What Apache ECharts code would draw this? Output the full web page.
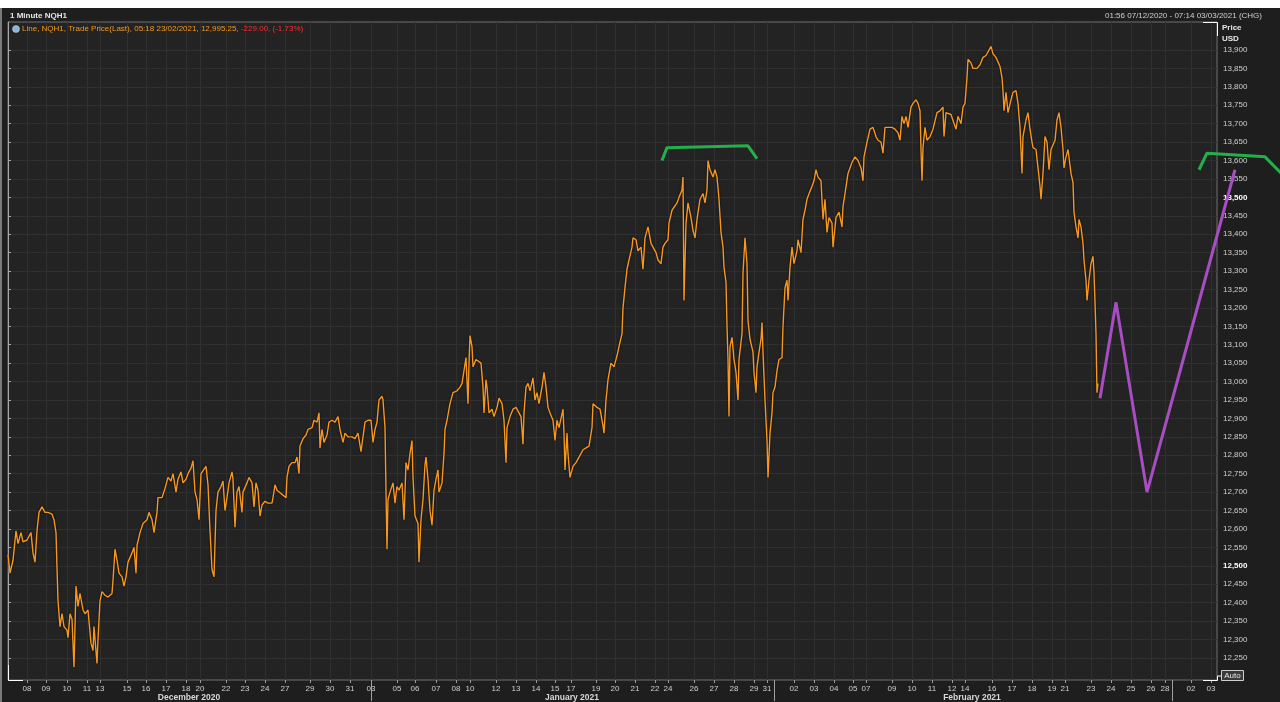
<!DOCTYPE html>
<html><head><meta charset="utf-8">
<script src="https://cdn.jsdelivr.net/npm/echarts@6/dist/echarts.min.js"></script>
<style>html,body{margin:0;padding:0;background:#fff;}#c{width:1280px;height:702px;}</style>
</head><body><div id="c"></div>
<script>
// NQH1 path: [trading-time bar index (~70 min bars from 07/12/2020 open), price USD]
const nqPath = [[0,12530],[2,12480],[5,12515],[8,12595],[10,12560],[13,12590],[15,12565],[19,12570],[23,12590],[25,12535],[27,12510],[29,12595],[31,12645],[34,12660],[37,12645],[40,12645],[44,12640],[46,12625],[48,12590],[49,12495],[50,12405],[52,12335],[54,12370],[56,12335],[59,12325],[60,12305],[62,12370],[64,12355],[66,12225],[68,12445],[70,12390],[72,12425],[75,12380],[77,12370],[80,12380],[83,12290],[85,12270],[86,12335],[89,12235],[90,12300],[92,12405],[94,12430],[97,12420],[100,12415],[104,12425],[105,12460],[107,12545],[109,12515],[111,12480],[114,12470],[116,12445],[118,12470],[120,12510],[124,12535],[126,12550],[128,12480],[129,12555],[132,12590],[135,12615],[139,12625],[141,12645],[144,12625],[146,12590],[149,12645],[150,12685],[154,12685],[157,12710],[160,12740],[163,12730],[165,12750],[168,12700],[170,12735],[173,12755],[175,12725],[178,12735],[180,12750],[183,12765],[185,12785],[187,12700],[189,12680],[191,12625],[193,12750],[195,12755],[198,12770],[200,12720],[202,12595],[204,12490],[206,12470],[208,12650],[210,12700],[213,12715],[215,12730],[217,12650],[219,12685],[221,12725],[224,12755],[225,12735],[227,12605],[229,12700],[231,12715],[234,12645],[235,12700],[239,12725],[241,12740],[244,12725],[246,12660],[248,12725],[250,12705],[252,12635],[254,12665],[257,12675],[260,12670],[264,12670],[265,12685],[267,12720],[269,12705],[278,12685],[279,12740],[281,12770],[284,12780],[287,12780],[289,12795],[291,12750],[292,12825],[295,12845],[298,12855],[300,12870],[304,12875],[306,12895],[309,12890],[311,12915],[312,12820],[314,12870],[316,12835],[319,12855],[321,12890],[324,12895],[327,12890],[330,12905],[332,12870],[335,12835],[337,12860],[340,12850],[344,12850],[347,12845],[350,12860],[353,12810],[355,12850],[357,12890],[360,12895],[363,12895],[365,12835],[367,12870],[369,12890],[371,12950],[374,12960],[375,12950],[377,12875],[378,12700],[379,12545],[380,12680],[382,12700],[385,12725],[387,12670],[389,12715],[391,12705],[394,12725],[396,12625],[398,12780],[400,12760],[402,12805],[404,12840],[405,12740],[407,12635],[410,12615],[411,12510],[413,12625],[415,12680],[417,12775],[418,12795],[420,12735],[422,12650],[424,12610],[426,12705],[428,12735],[430,12760],[431,12700],[434,12725],[436,12805],[437,12870],[439,12895],[442,12940],[445,12970],[447,12970],[449,12975],[452,12985],[454,12995],[456,13030],[458,13065],[460,12940],[461,13050],[462,13125],[464,13095],[465,13040],[468,13060],[470,13065],[473,13050],[475,12985],[476,12915],[478,13005],[479,12985],[481,12915],[484,12925],[486,12905],[489,12930],[491,12955],[494,12940],[496,12895],[498,12780],[499,12875],[502,12905],[505,12925],[508,12930],[510,12925],[513,12905],[515,12830],[516,12915],[518,12985],[520,12995],[522,12975],[525,13010],[527,12950],[529,12970],[531,12940],[534,12985],[536,13025],[538,12985],[540,12930],[542,12915],[545,12895],[547,12840],[549,12895],[551,12875],[555,12925],[556,12860],[557,12760],[559,12860],[560,12805],[562,12740],[565,12770],[568,12780],[571,12795],[575,12815],[578,12820],[581,12825],[584,12875],[585,12940],[589,12930],[592,12925],[595,12880],[596,12860],[598,12950],[600,13005],[603,13050],[606,13040],[609,13070],[611,13095],[614,13130],[615,13200],[617,13255],[619,13305],[621,13330],[624,13365],[625,13390],[628,13385],[630,13355],[633,13365],[635,13305],[637,13390],[640,13420],[643,13375],[645,13365],[648,13350],[650,13330],[653,13320],[655,13365],[657,13375],[660,13385],[661,13430],[664,13465],[666,13470],[669,13485],[671,13500],[674,13520],[675,13555],[676,13220],[678,13430],[680,13485],[683,13445],[685,13410],[687,13390],[689,13440],[692,13495],[695,13510],[697,13485],[699,13520],[700,13600],[702,13575],[705,13555],[707,13575],[709,13555],[711,13495],[713,13405],[715,13365],[716,13310],[718,13270],[719,13150],[720,13060],[721,12905],[722,13095],[724,13120],[726,13060],[728,13025],[730,12950],[731,13060],[734,13130],[735,13295],[737,13390],[739,13320],[740,13165],[742,13115],[745,13080],[746,13025],[748,12970],[749,13040],[751,13080],[753,13115],[754,13160],[755,13080],[757,12950],[759,12840],[760,12740],[762,12860],[764,12915],[765,12970],[767,12985],[769,13030],[771,13060],[774,13065],[775,13150],[777,13255],[779,13275],[780,13220],[782,13310],[784,13365],[786,13320],[789,13355],[790,13385],[793,13350],[795,13440],[797,13465],[799,13495],[801,13510],[804,13530],[806,13545],[808,13575],[810,13555],[813,13545],[815,13440],[817,13495],[819,13405],[821,13445],[824,13430],[825,13365],[828,13445],[831,13460],[834,13420],[835,13475],[837,13510],[840,13565],[844,13595],[847,13610],[850,13600],[853,13580],[855,13545],[856,13610],[859,13650],[862,13685],[865,13690],[868,13665],[870,13655],[873,13650],[875,13620],[877,13690],[880,13690],[884,13690],[887,13685],[890,13675],[892,13655],[894,13720],[896,13700],[898,13720],[900,13690],[903,13745],[905,13755],[908,13765],[910,13755],[912,13735],[913,13630],[914,13545],[915,13635],[917,13690],[919,13655],[922,13665],[925,13685],[927,13690],[929,13730],[932,13735],[935,13745],[936,13665],[938,13730],[940,13735],[943,13725],[945,13720],[948,13685],[950,13720],[953,13700],[955,13745],[957,13755],[959,13825],[960,13875],[963,13865],[965,13850],[969,13850],[972,13860],[975,13880],[978,13885],[980,13880],[983,13910],[985,13890],[988,13880],[990,13885],[992,13855],[994,13825],[995,13790],[996,13735],[998,13785],[1000,13730],[1003,13765],[1005,13785],[1008,13790],[1010,13755],[1012,13690],[1014,13565],[1015,13665],[1018,13710],[1020,13730],[1022,13685],[1024,13650],[1025,13635],[1028,13630],[1030,13580],[1032,13530],[1033,13495],[1035,13565],[1037,13665],[1039,13650],[1041,13575],[1043,13630],[1045,13630],[1047,13655],[1049,13710],[1051,13730],[1053,13690],[1055,13630],[1056,13580],[1058,13610],[1060,13630],[1063,13565],[1065,13540],[1066,13460],[1068,13420],[1070,13390],[1071,13440],[1073,13420],[1075,13375],[1076,13330],[1078,13275],[1079,13220],[1081,13275],[1083,13320],[1085,13340],[1086,13295],[1087,13215],[1088,13130],[1089,12970],[1090,12995]];

// Hand-drawn annotations (bar index, price)
const greenTopA = [[654,13600],[659,13635],[740,13640],[749,13605]];
const greenTopB = [[1191,13575],[1199,13620],[1257,13610],[1277,13555]];
const purplePath = [[1092,12955],[1108,13215],[1139,12700],[1227,13575]];

// X axis: day labels and their bar positions
const dayLabels = ['08','09','10','11','13','15','16','17','18','20','22','23','24','27','29','30','31','03','05','06',
  '07','08','10','12','13','14','15','17','19','20','21','22','24','26','27','28','29','31','02','03','04',
  '05','07','09','10','11','12','14','16','17','18','19','21','23','24','25','26','28','02','03'];
const dayBars = [19,38,59,79,92,119,138,158,178,192,218,237,257,277,302,322,342,363,389,407,
  428,448,462,488,508,528,547,563,588,607,627,647,660,686,706,726,746,759,786,806,826,
  845,858,884,904,924,944,957,984,1004,1024,1044,1057,1083,1103,1123,1143,1157,1183,1203];
const monthLabels = ['December 2020','January 2021','February 2021'];
const monthMidBars = [181,564,964];
const monthEdgeBars = [363,766,1164];
const barMax = 1209;          // right edge of the price panel
const barMaxOverlay = 1272;   // drawing layer runs across the price axis to the window edge

// Y axis
const priceMin = 12190, priceMax = 13976;
const tickFirst = 12250, tickLast = 13900, tickStep = 50;
const priceTicks = [];
for (let v = tickFirst; v <= tickLast; v += tickStep) priceTicks.push(v);
const boldTicks = [12500, 13500];
const lastPrice = 12995.25;

const FONT = 'Liberation Sans';
const fmt = v => v.toLocaleString('en-US');
const PANEL_LEFT = 8, PANEL_TOP = 22, PANEL_W = 1209, PANEL_H = 658;

const chart = echarts.init(document.getElementById('c'), null, {renderer:'canvas'});
chart.setOption({
  animation: false,
  backgroundColor: '#1e1e1e',
  textStyle: {fontFamily: FONT},
  grid: [
    {left: PANEL_LEFT, top: PANEL_TOP, width: PANEL_W, height: PANEL_H, show: true, backgroundColor: '#232323', borderColor: '#707070', borderWidth: 1},
    {left: PANEL_LEFT, top: PANEL_TOP, width: PANEL_W * barMaxOverlay / barMax, height: PANEL_H, show: false}
  ],
  xAxis: [{
    type: 'value', min: 0, max: barMax, position: 'bottom', gridIndex: 0,
    axisLine: {show: false},
    axisTick: {show: true, customValues: dayBars, length: 3, lineStyle: {color: '#9a9a9a'}},
    axisLabel: {customValues: dayBars, formatter: v => dayLabels[dayBars.indexOf(v)], color: '#cfcfcf', fontSize: 8, fontFamily: FONT, margin: 5},
    splitLine: {show: true, lineStyle: {color: '#303030', width: 1}}
  }, {
    type: 'value', min: 0, max: barMax, position: 'bottom', gridIndex: 0,
    axisLine: {show: false},
    axisTick: {show: true, customValues: monthEdgeBars, length: 21, lineStyle: {color: '#a0a0a0'}},
    axisLabel: {customValues: monthMidBars, formatter: v => monthLabels[monthMidBars.indexOf(v)], color: '#d8d8d8', fontWeight: 'bold', fontSize: 8.5, fontFamily: FONT, margin: 13},
    splitLine: {show: false}
  }, {
    type: 'value', min: 0, max: barMaxOverlay, gridIndex: 1, show: false
  }],
  yAxis: [{
    type: 'value', position: 'right', min: priceMin, max: priceMax, gridIndex: 0,
    axisLine: {show: true, lineStyle: {color: '#a8a8a8'}},
    axisTick: {show: true, customValues: priceTicks, length: 3, lineStyle: {color: '#a8a8a8'}},
    axisLabel: {customValues: priceTicks, margin: 6, color: '#cfcfcf', fontSize: 8, fontFamily: FONT,
      formatter: v => boldTicks.includes(v) ? '{b|' + fmt(v) + '}' : fmt(v),
      rich: {b: {fontWeight: 'bold', color: '#ffffff', fontSize: 8, fontFamily: FONT}}},
    splitLine: {show: true, lineStyle: {color: '#303030', width: 1}}
  }, {
    type: 'value', min: priceMin, max: priceMax, gridIndex: 1, show: false
  }],
  series: [{
    type: 'line', data: nqPath, showSymbol: false, symbol: 'none', z: 3, xAxisIndex: 0, yAxisIndex: 0,
    lineStyle: {color: '#f7981d', width: 1.4, shadowColor: 'rgba(0,0,20,0.9)', shadowBlur: 2},
    markLine: {silent: true, symbol: ['none','none'], data: [{yAxis: lastPrice}], lineStyle: {opacity: 0},
      label: {show: true, position: 'end', distance: 1, formatter: lastPrice.toLocaleString('en-US', {minimumFractionDigits: 2}),
        color: '#111', backgroundColor: '#f7981d', fontSize: 8, fontWeight: 'bold', fontFamily: FONT, padding: [2, 3, 1, 2]}}
  }, {
    type: 'line', data: greenTopA, showSymbol: false, symbol: 'none', z: 5, xAxisIndex: 2, yAxisIndex: 1, clip: false,
    lineStyle: {color: '#23b04a', width: 3}
  }, {
    type: 'line', data: greenTopB, showSymbol: false, symbol: 'none', z: 5, xAxisIndex: 2, yAxisIndex: 1, clip: false,
    lineStyle: {color: '#23b04a', width: 3}
  }, {
    type: 'line', data: purplePath, showSymbol: false, symbol: 'none', z: 5, xAxisIndex: 2, yAxisIndex: 1, clip: false,
    lineStyle: {color: '#a74ec2', width: 3}
  }],
  graphic: [
    {type: 'rect', left: 0, top: 0, shape: {width: 1280, height: 8}, style: {fill: '#ffffff'}, z: 100},
    {type: 'rect', shape: {x: 0, y: 8, width: 2, height: 694}, style: {fill: '#7a7a7a'}, z: 100},
    {type: 'text', x: 10, y: 16, style: {text: '1 Minute NQH1', fill: '#e6e6e6', font: 'bold 8px Liberation Sans', verticalAlign: 'middle'}, z: 100},
    {type: 'text', x: 1262, y: 16, style: {text: '01:56 07/12/2020 - 07:14 03/03/2021 (CHG)', fill: '#d0d0d0', font: '8px Liberation Sans', align: 'right', verticalAlign: 'middle'}, z: 100},
    {type: 'circle', shape: {cx: 16, cy: 29, r: 3.5}, style: {fill: '#8db3d9', stroke: '#c8d8e8', lineWidth: 0.5}, z: 100},
    {type: 'text', x: 22, y: 29, style: {
      text: '{o|Line, NQH1, Trade Price(Last), 05:18 23/02/2021, 12,995.25, }{r|-229.00, (-1.73%)}',
      verticalAlign: 'middle', font: '8px Liberation Sans',
      rich: {o: {fill: '#f7981d', font: '8px Liberation Sans'}, r: {fill: '#ff2b2b', font: '8px Liberation Sans'}}}, z: 100},
    {type: 'text', x: 1222, y: 28, style: {text: 'Price', fill: '#e6e6e6', font: 'bold 8px Liberation Sans', verticalAlign: 'middle'}, z: 100},
    {type: 'text', x: 1222, y: 39, style: {text: 'USD', fill: '#e6e6e6', font: 'bold 8px Liberation Sans', verticalAlign: 'middle'}, z: 100},
    {type: 'rect', shape: {x: 1221.5, y: 670.5, width: 22, height: 10}, style: {fill: '#3a3a3a', stroke: '#cfcfcf', lineWidth: 1}, z: 100},
    {type: 'text', x: 1232.5, y: 676, style: {text: 'Auto', fill: '#e6e6e6', font: '8px Liberation Sans', align: 'center', verticalAlign: 'middle'}, z: 101},
    {type: 'polyline', shape: {points: [[8.5, 665], [8.5, 680.5], [23, 680.5]]}, style: {stroke: '#ffffff', lineWidth: 1, fill: null}, z: 100},
    {type: 'polyline', shape: {points: [[1203, 680.5], [1217.5, 680.5], [1217.5, 676], [1221, 676]]}, style: {stroke: '#ffffff', lineWidth: 1, fill: null}, z: 100},
    {type: 'polyline', shape: {points: [[1203, 22.5], [1217.5, 22.5], [1217.5, 36]]}, style: {stroke: '#ffffff', lineWidth: 1, fill: null}, z: 100}
  ]
});
</script></body></html>
